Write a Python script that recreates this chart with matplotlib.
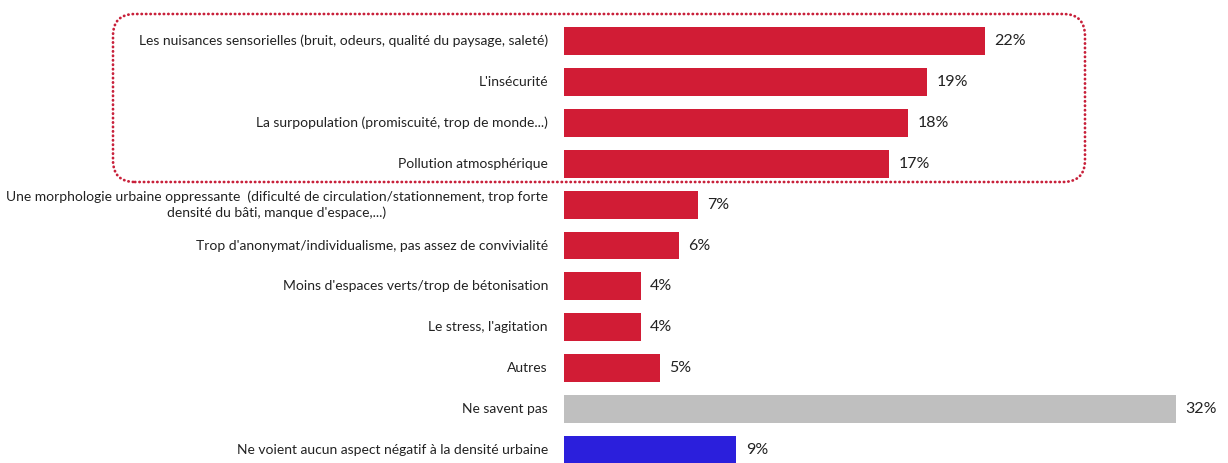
import matplotlib.pyplot as plt
from matplotlib.patches import FancyBboxPatch
from matplotlib.transforms import IdentityTransform

labels = [
    "Les nuisances sensorielles (bruit, odeurs, qualité du paysage, saleté)",
    "L'insécurité",
    "La surpopulation (promiscuité, trop de monde...)",
    "Pollution atmosphérique",
    "Une morphologie urbaine oppressante  (dificulté de circulation/stationnement, trop forte\n"
    "densité du bâti, manque d'espace,...)",
    "Trop d'anonymat/individualisme, pas assez de convivialité",
    "Moins d'espaces verts/trop de bétonisation",
    "Le stress, l'agitation",
    "Autres",
    "Ne savent pas",
    "Ne voient aucun aspect négatif à la densité urbaine",
]
values = [22, 19, 18, 17, 7, 6, 4, 4, 5, 32, 9]
colors = ["#d11c35"] * 9 + ["#bfbfbf", "#2b1fdc"]

W, H = 1228, 463
fig = plt.figure(figsize=(W / 100, H / 100), dpi=100)
plt.rcParams['font.family'] = ['Lato', 'DejaVu Sans']

# bars start at x=564 px, 1% ~ 19.13 px, rows ~40.9 px apart
ax = fig.add_axes([564 / W, 0, 1 - 564 / W, 1])
ax.set_xlim(0, (W - 564) / 19.13)
ax.set_ylim((H - 41) / 40.9, -41 / 40.9)
ax.axis("off")

ys = list(range(len(values)))
ax.barh(ys, values, height=0.68, color=colors)

for y, v, lab in zip(ys, values, labels):
    ax.text(v + 0.5, y, f"{v}%", va="center", ha="left",
            fontsize=11.5, color="#222222")
    ax.annotate(lab, xy=(0, y), xytext=(-16, 0), textcoords="offset pixels",
                va="center", ha="right", multialignment="center",
                fontsize=10, color="#222222", linespacing=1.3,
                annotation_clip=False)

# dotted frame around the four first items
box = FancyBboxPatch((113, H - 182), 1085 - 113, 182 - 14,
                     boxstyle="round,pad=0,rounding_size=22",
                     transform=IdentityTransform(), fill=False,
                     edgecolor="#c8203a", linewidth=2.0,
                     linestyle=(0, (0.1, 1.5)), capstyle="round")
fig.patches.append(box)

fig.savefig("out.png", dpi=100)
